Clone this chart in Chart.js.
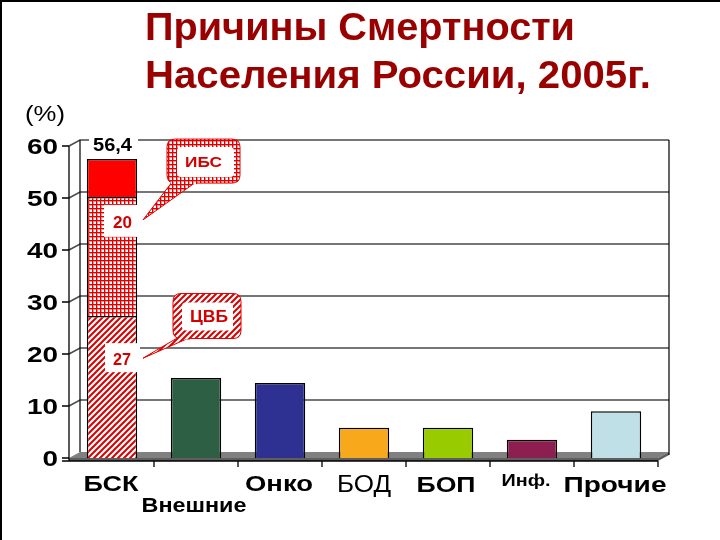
<!DOCTYPE html>
<html><head><meta charset="utf-8">
<style>html,body{margin:0;padding:0;background:#fff}canvas{display:block}</style>
<script src="https://cdn.jsdelivr.net/npm/chart.js@4/dist/chart.umd.min.js"></script>
</head><body>
<canvas id="c" width="720" height="540"></canvas>
<script>
// ---- data ----
const categories = ['БСК', 'Внешние', 'Онко', 'БОД', 'БОП', 'Инф.', 'Прочие'];
const cvbPart   = [27.3, null, null, null, null, null, null];   // ЦВБ share of БСК
const ibsPart   = [22.9, null, null, null, null, null, null];   // ИБС share of БСК
const restBsk   = [7.3,  null, null, null, null, null, null];   // remaining БСК
const otherCauses = [null, 15.4, 14.4, 5.8, 5.8, 3.5, 9.0];
const yTicks = [0, 10, 20, 30, 40, 50, 60];
const bskTotalLabel = '56,4';
const ibsLabel = '20';
const cvbLabel = '27';

// ---- patterns ----
function makeCross() {
  const c = document.createElement('canvas'); c.width = 4; c.height = 4;
  const g = c.getContext('2d');
  g.fillStyle = '#fff'; g.fillRect(0, 0, 4, 4);
  g.fillStyle = '#f29090'; g.fillRect(0, 1, 4, 1); g.fillRect(1, 0, 1, 4);
  g.fillStyle = '#e00000'; g.fillRect(0, 0, 4, 1); g.fillRect(0, 0, 1, 4);
  return g.createPattern(c, 'repeat');
}
function makeStripe() {
  const s = 6;
  const c = document.createElement('canvas'); c.width = s; c.height = s;
  const g = c.getContext('2d');
  g.fillStyle = '#fff'; g.fillRect(0, 0, s, s);
  g.strokeStyle = '#d80000'; g.lineWidth = 2;
  g.beginPath();
  g.moveTo(-1, s + 1); g.lineTo(s + 1, -1);
  g.moveTo(-1, 1); g.lineTo(1, -1);
  g.moveTo(s - 1, s + 1); g.lineTo(s + 1, s - 1);
  g.stroke();
  return g.createPattern(c, 'repeat');
}
const crossPat = makeCross();
const stripePat = makeStripe();

function sText(ctx, text, x, y, font, color, align, opt) {
  ctx.save();
  ctx.font = font; ctx.fillStyle = color; ctx.textBaseline = 'alphabetic';
  ctx.textAlign = align || 'center';
  const w = ctx.measureText(text).width;
  let sx = 1;
  if (opt && opt.width) sx = opt.width / w;
  else if (opt && opt.sx) sx = opt.sx;
  ctx.translate(x, y); ctx.scale(sx, 1);
  ctx.fillText(text, 0, 0);
  ctx.restore();
}
function rr(ctx, x, y, w, h, r) {
  ctx.beginPath();
  ctx.moveTo(x + r, y); ctx.lineTo(x + w - r, y); ctx.quadraticCurveTo(x + w, y, x + w, y + r);
  ctx.lineTo(x + w, y + h - r); ctx.quadraticCurveTo(x + w, y + h, x + w - r, y + h);
  ctx.lineTo(x + r, y + h); ctx.quadraticCurveTo(x, y + h, x, y + h - r);
  ctx.lineTo(x, y + r); ctx.quadraticCurveTo(x, y, x + r, y); ctx.closePath();
}

const F = '"Liberation Sans", Arial, sans-serif';

const deco = {
  id: 'deco',
  beforeDatasetsDraw(chart) {
    const { ctx, chartArea: a, scales: { x: xS, y: yS } } = chart;
    const dx = 11, dy = -6;
    const L = a.left - 1, R = a.right, B = yS.getPixelForValue(0), T = yS.getPixelForValue(60);
    ctx.save();
    // floor
    ctx.fillStyle = '#808080';
    ctx.beginPath(); ctx.moveTo(L, B); ctx.lineTo(L + dx, B + dy); ctx.lineTo(R + dx, B + dy); ctx.lineTo(R, B); ctx.closePath(); ctx.fill();
    ctx.fillStyle = '#5e5e5e';
    ctx.beginPath(); ctx.moveTo(L, B); ctx.lineTo(R, B); ctx.lineTo(R + dx, B + dy); ctx.lineTo(R + dx, B + dy + 3); ctx.lineTo(R, B + 3); ctx.lineTo(L, B + 3); ctx.closePath(); ctx.fill();
    // gridlines on back wall
    ctx.strokeStyle = '#4a4a4a'; ctx.lineWidth = 1.5;
    yTicks.forEach(v => {
      if (v === 0) return;
      const y = yS.getPixelForValue(v);
      ctx.beginPath(); ctx.moveTo(L, y); ctx.lineTo(L + dx, y + dy); ctx.lineTo(R + dx, y + dy); ctx.stroke();
    });
    // wall edges
    ctx.strokeStyle = '#000'; ctx.lineWidth = 1.2;
    ctx.beginPath(); ctx.moveTo(L + dx, T + dy); ctx.lineTo(L + dx, B + dy);
    ctx.moveTo(R + dx, T + dy); ctx.lineTo(R + dx, B + dy + 3); ctx.stroke();
    // front axis
    ctx.lineWidth = 1.3;
    ctx.beginPath(); ctx.moveTo(L, T); ctx.lineTo(L, B + 3);
    yTicks.forEach(v => { const y = yS.getPixelForValue(v); ctx.moveTo(L - 7, y); ctx.lineTo(L, y); });
    ctx.moveTo(L - 7, B + 3); ctx.lineTo(R, B + 3);
    for (let i = 1; i <= categories.length; i++) {
      const x = xS.getPixelForValue(i - 0.5);
      ctx.moveTo(x, B + 3); ctx.lineTo(x, B + 9);
    }
    ctx.stroke();
    ctx.restore();
  },
  afterDatasetsDraw(chart) {
    const { ctx, chartArea: a, scales: { x: xS, y: yS } } = chart;
    ctx.save();
    // frame (top & left)
    ctx.fillStyle = '#000'; ctx.fillRect(0, 0, 720, 2); ctx.fillRect(0, 0, 2, 540);
    // title
    sText(ctx, 'Причины Смертности', 145, 40, 'bold 38px ' + F, '#990000', 'left', { width: 430 });
    sText(ctx, 'Населения России, 2005г.', 145, 88, 'bold 38px ' + F, '#990000', 'left', { width: 506 });
    sText(ctx, '(%)', 25, 121, '22px ' + F, '#000', 'left', { width: 40 });
    // y tick labels
    yTicks.forEach(v => {
      const y = yS.getPixelForValue(v);
      sText(ctx, String(v), a.left - 12, y + 8, 'bold 22px ' + F, '#000', 'right', { sx: 1.27 });
    });
    // category labels
    const labStyle = [
      { font: 'bold 22px ', dx: -1, y: 491, w: 55 },
      { font: 'bold 20px ', dx: -2, y: 512, w: 105 },
      { font: 'bold 22px ', dx: -1, y: 491, w: 68 },
      { font: '23px ', dx: 0, y: 492, w: 54 },
      { font: 'bold 22px ', dx: -2, y: 492, w: 59 },
      { font: 'bold 17px ', dx: -6, y: 486, w: 49 },
      { font: 'bold 22px ', dx: -1, y: 492, w: 103 }
    ];
    categories.forEach((c, i) => {
      const s = labStyle[i];
      sText(ctx, c, xS.getPixelForValue(i) + s.dx, s.y, s.font + F, '#000', 'center', { width: s.w });
    });
    const x0 = xS.getPixelForValue(0);
    // total label
    const yTop = yS.getPixelForValue(60);
    ctx.fillStyle = '#fff'; ctx.fillRect(x0 - 23, yTop - 14, 49, 24);
    sText(ctx, bskTotalLabel, x0 + 0.5, yTop + 5, 'bold 18px ' + F, '#000', 'center', { width: 39 });

    // callouts
    function callout(box, inner, tri, pat) {
      ctx.save();
      ctx.fillStyle = pat; ctx.strokeStyle = '#e00000'; ctx.lineWidth = 1;
      rr(ctx, box[0], box[1], box[2], box[3], 8); ctx.fill(); ctx.stroke();
      ctx.beginPath(); ctx.moveTo(tri[0], tri[1]); ctx.lineTo(tri[2], tri[3]); ctx.lineTo(tri[4], tri[5]); ctx.closePath();
      ctx.fill(); ctx.stroke();
      ctx.fillStyle = pat;
      ctx.fillRect(tri[0] - 1, box[1] + box[3] - 4, tri[2] - tri[0] + 2, 5);
      ctx.fillStyle = '#fff';
      rr(ctx, inner[0], inner[1], inner[2], inner[3], 4); ctx.fill();
      ctx.restore();
    }
    const yIbsLbl = yS.getPixelForValue(45.6);
    const yCvbLbl = yS.getPixelForValue(19.2);
    // value boxes on bar
    ctx.fillStyle = '#fff';
    ctx.fillRect(x0 - 8, yIbsLbl - 16, 37, 32);
    ctx.fillRect(x0 - 7, yCvbLbl - 15, 35, 29);
    sText(ctx, ibsLabel, x0 + 10.5, yIbsLbl + 7, 'bold 16px ' + F, '#d40000', 'center', { width: 19 });
    sText(ctx, cvbLabel, x0 + 10, yCvbLbl + 7, 'bold 16px ' + F, '#d40000', 'center', { width: 18 });

    const yIbsBox = yS.getPixelForValue(57.1);
    callout([x0 + 55, yIbsBox - 22, 73, 44], [x0 + 65, yIbsBox - 14, 57, 30],
      [x0 + 60, yIbsBox + 21, x0 + 84, yIbsBox + 21, x0 + 31, yIbsLbl - 1], crossPat);
    sText(ctx, 'ИБС', x0 + 91.5, yIbsBox + 6, 'bold 15px ' + F, '#d40000', 'center', { width: 37 });

    const yCvbBox = yS.getPixelForValue(27.4);
    callout([x0 + 61, yCvbBox - 22, 68, 45], [x0 + 70, yCvbBox - 13, 51, 28],
      [x0 + 66, yCvbBox + 22, x0 + 78, yCvbBox + 22, x0 + 31, yCvbLbl], stripePat);
    sText(ctx, 'ЦВБ', x0 + 97, yCvbBox + 6, 'bold 17px ' + F, '#d40000', 'center', { width: 38 });
    ctx.restore();
  }
};

const common = { borderColor: '#000', borderWidth: 1.5, barPercentage: 0.6, categoryPercentage: 1 };
new Chart(document.getElementById('c'), {
  type: 'bar',
  data: {
    labels: categories,
    datasets: [
      Object.assign({ label: 'ЦВБ', data: cvbPart, backgroundColor: stripePat }, common),
      Object.assign({ label: 'ИБС', data: ibsPart, backgroundColor: crossPat }, common),
      Object.assign({ label: 'БСК прочие', data: restBsk, backgroundColor: '#ff0000' }, common),
      Object.assign({ label: 'Другие причины', data: otherCauses,
        backgroundColor: ['#fff', '#2d5f45', '#2e3192', '#f7a81b', '#99cc00', '#8c1f50', '#bfe0e6'] }, common)
    ]
  },
  options: {
    responsive: false, animation: false, devicePixelRatio: 1,
    layout: { padding: { left: 70, right: 62, top: 146, bottom: 82 } },
    plugins: { legend: { display: false }, tooltip: { enabled: false }, title: { display: false } },
    scales: {
      x: { display: false, stacked: true, offset: true },
      y: { display: false, stacked: true, min: 0, max: 60 }
    }
  },
  plugins: [deco]
});
</script>
</body></html>
